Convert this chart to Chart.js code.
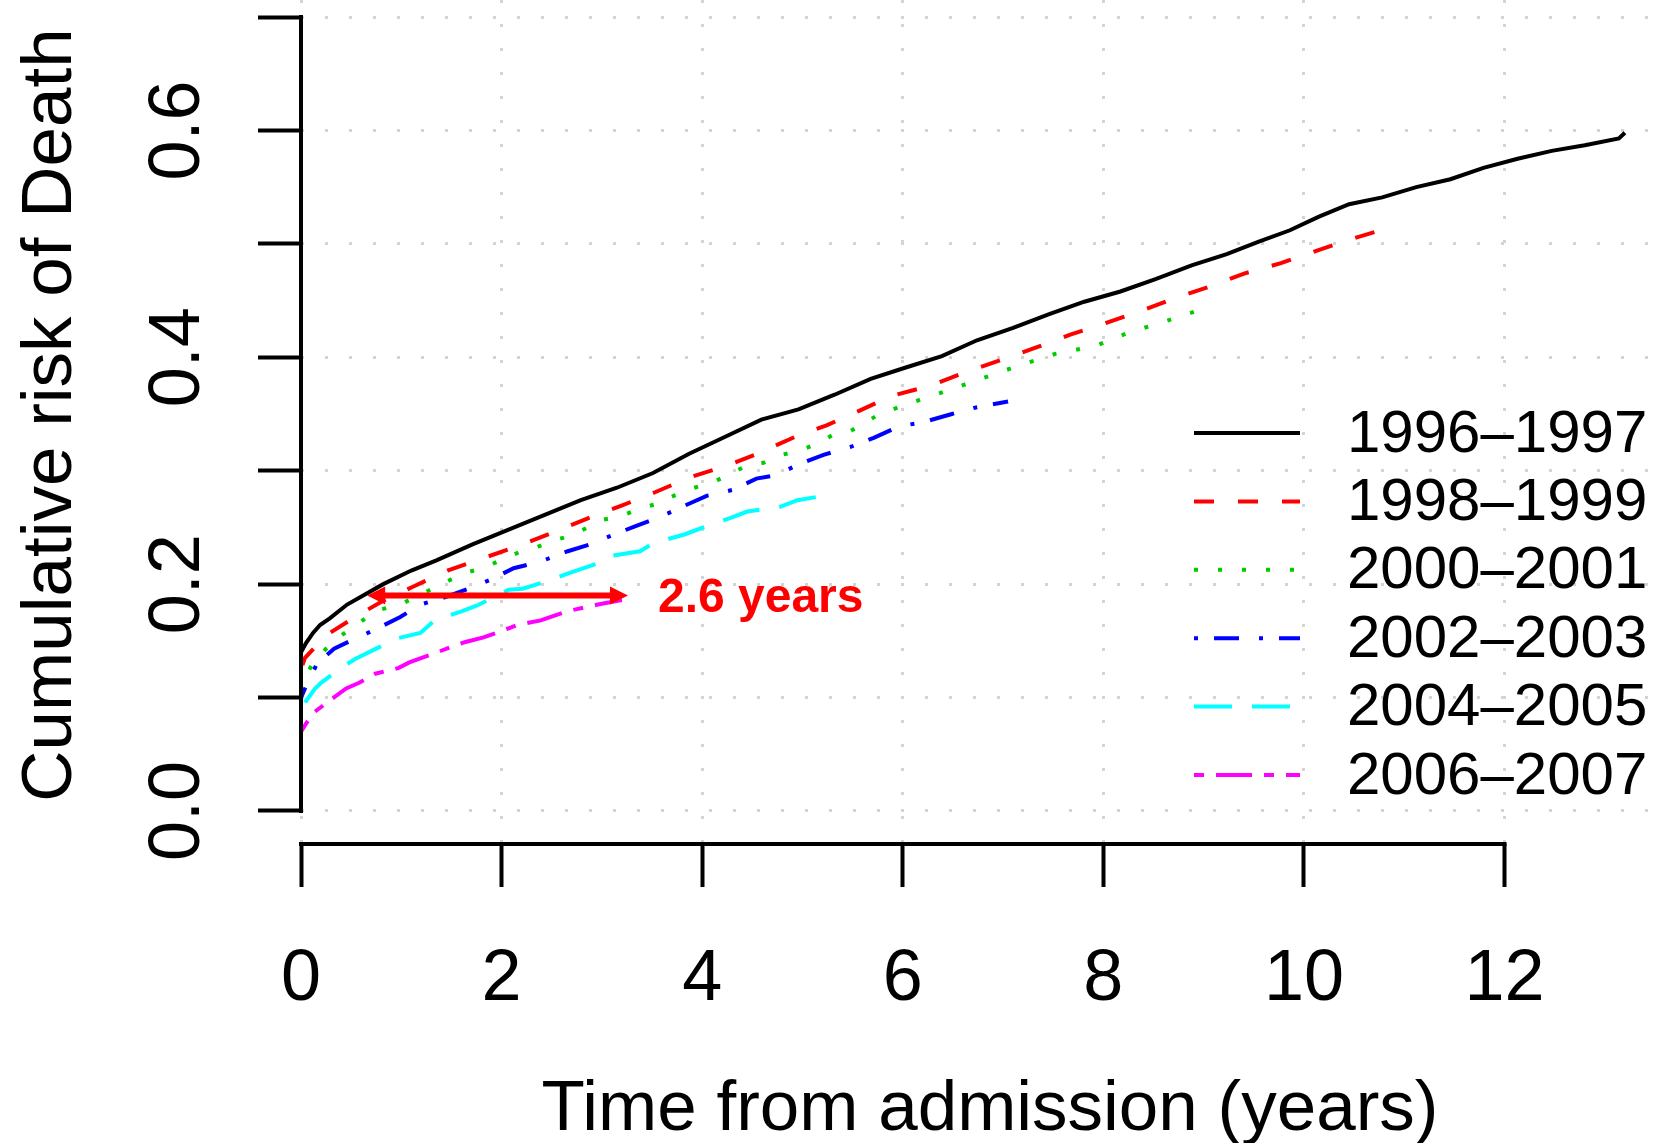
<!DOCTYPE html>
<html>
<head>
<meta charset="utf-8">
<title>Cumulative risk of death</title>
<script src="https://cdn.jsdelivr.net/npm/chart.js@4"></script>
<style>
  html, body { margin: 0; padding: 0; background: #fff; }
  #wrap { width: 1655px; height: 1143px; }
</style>
</head>
<body>
<div id="wrap"><canvas id="riskChart" width="1655" height="1143"></canvas></div>
<script>
// admission periods
const periods = ['1996–1997', '1998–1999', '2000–2001', '2002–2003', '2004–2005', '2006–2007'];
const colors = ['#000000', '#FF0000', '#00CD00', '#0000FF', '#00FFFF', '#FF00FF'];
const dashes = [[], [20, 24], [4, 20], [4, 16, 25, 20], [38, 20], [10, 12, 36, 12]];

// time (years) and cumulative risk
const t9697 = [0, 0, 0.05, 0.12, 0.19, 0.29, 0.46, 0.62, 0.82, 1.10, 1.35, 1.71, 2.07, 2.43, 2.79, 3.15, 3.51, 3.87, 4.23, 4.59, 4.96, 5.32, 5.68, 6.03, 6.39, 6.74, 7.10, 7.46, 7.81, 8.17, 8.52, 8.88, 9.23, 9.55, 9.86, 10.15, 10.45, 10.78, 11.12, 11.46, 11.79, 12.13, 12.47, 12.80, 13.14, 13.20];
const r9697 = [0.100, 0.140, 0.148, 0.157, 0.164, 0.170, 0.182, 0.190, 0.200, 0.212, 0.221, 0.235, 0.248, 0.261, 0.274, 0.285, 0.298, 0.315, 0.330, 0.345, 0.354, 0.367, 0.381, 0.391, 0.401, 0.415, 0.426, 0.438, 0.449, 0.458, 0.469, 0.481, 0.491, 0.502, 0.512, 0.524, 0.535, 0.541, 0.550, 0.557, 0.567, 0.575, 0.582, 0.587, 0.593, 0.598];

const t9899 = [0, 0, 0.04, 0.20, 0.27, 0.52, 0.81, 1.10, 1.46, 1.82, 2.18, 2.50, 2.86, 3.19, 3.53, 3.87, 4.23, 4.55, 4.93, 5.24, 5.57, 5.89, 6.28, 6.60, 6.96, 7.31, 7.67, 8.02, 8.38, 8.71, 9.05, 9.41, 9.77, 10.13, 10.50, 10.92];
const r9899 = [0.090, 0.125, 0.135, 0.150, 0.156, 0.170, 0.185, 0.197, 0.212, 0.223, 0.234, 0.245, 0.258, 0.269, 0.281, 0.294, 0.304, 0.315, 0.330, 0.340, 0.353, 0.366, 0.375, 0.386, 0.397, 0.408, 0.420, 0.430, 0.441, 0.452, 0.462, 0.474, 0.483, 0.494, 0.505, 0.516];

const t0001 = [0, 0, 0.04, 0.13, 0.25, 0.37, 0.49, 0.66, 0.81, 0.99, 1.31, 1.47, 1.64, 1.81, 2.17, 2.33, 2.54, 2.70, 2.86, 3.02, 3.19, 3.39, 3.56, 3.72, 3.92, 4.09, 4.25, 4.41, 4.61, 4.79, 4.95, 5.15, 5.31, 5.48, 5.77, 6.12, 6.49, 6.81, 7.17, 7.52, 7.92, 8.26, 8.63, 9.00];
const r0001 = [0.085, 0.115, 0.118, 0.132, 0.143, 0.153, 0.160, 0.171, 0.178, 0.182, 0.196, 0.203, 0.210, 0.214, 0.228, 0.232, 0.239, 0.243, 0.250, 0.257, 0.260, 0.267, 0.271, 0.278, 0.285, 0.289, 0.296, 0.303, 0.307, 0.314, 0.317, 0.324, 0.332, 0.335, 0.350, 0.361, 0.372, 0.382, 0.393, 0.403, 0.410, 0.422, 0.432, 0.443];

const t0203 = [0, 0, 0.04, 0.16, 0.33, 0.54, 0.74, 0.99, 1.19, 1.39, 1.67, 1.89, 2.12, 2.39, 2.66, 2.88, 3.10, 3.33, 3.60, 3.82, 4.05, 4.30, 4.54, 4.73, 5.00, 5.21, 5.48, 5.71, 5.96, 6.21, 6.49, 6.74, 7.05];
const r0203 = [0.070, 0.100, 0.108, 0.130, 0.143, 0.152, 0.160, 0.171, 0.182, 0.187, 0.196, 0.204, 0.214, 0.220, 0.229, 0.235, 0.243, 0.251, 0.260, 0.269, 0.278, 0.283, 0.293, 0.296, 0.307, 0.314, 0.321, 0.329, 0.339, 0.343, 0.350, 0.356, 0.361];

const t0405 = [0, 0, 0.05, 0.14, 0.20, 0.38, 0.54, 0.77, 0.95, 1.19, 1.33, 1.60, 1.75, 2.07, 2.21, 2.50, 2.65, 2.95, 3.10, 3.38, 3.51, 3.83, 4.01, 4.27, 4.45, 4.77, 4.95, 5.15];
const r0405 = [0.045, 0.085, 0.097, 0.108, 0.113, 0.125, 0.134, 0.144, 0.152, 0.157, 0.168, 0.176, 0.181, 0.195, 0.196, 0.204, 0.209, 0.218, 0.225, 0.229, 0.236, 0.244, 0.250, 0.258, 0.264, 0.268, 0.274, 0.277];

const t0607 = [0, 0, 0.05, 0.13, 0.31, 0.45, 0.58, 0.74, 0.97, 1.08, 1.30, 1.48, 1.64, 1.82, 2.07, 2.16, 2.39, 2.65, 2.75, 2.96, 3.20];
const r0607 = [0.030, 0.070, 0.077, 0.087, 0.099, 0.108, 0.113, 0.121, 0.126, 0.131, 0.138, 0.144, 0.149, 0.153, 0.161, 0.164, 0.168, 0.176, 0.178, 0.182, 0.186];

const seriesT = [t9697, t9899, t0001, t0203, t0405, t0607];
const seriesR = [r9697, r9899, r0001, r0203, r0405, r0607];

// axes
const xTicks = [0, 2, 4, 6, 8, 10, 12];
const yTicks = [0, 0.1, 0.2, 0.3, 0.4, 0.5, 0.6, 0.7];
const yLabelTicks = [0, 0.2, 0.4, 0.6];
const xTitle = 'Time from admission (years)';
const yTitle = 'Cumulative risk of Death';

// annotation: gap between the 1996-1997 and 2006-2007 curves
const arrowFrom = 0.66;
const arrowTo = 3.26;
const arrowLevel = 0.19;
const arrowText = '2.6 years';

const FONT = '"Liberation Sans", Arial, sans-serif';

// R-like axes, labels, legend and the arrow
const rStyle = {
    id: 'rStyle',
    afterDraw(chart) {
        const { ctx, chartArea, scales: { x, y } } = chart;
        ctx.save();

        // axis lines, only over the tick range
        ctx.strokeStyle = '#000';
        ctx.lineWidth = 4;
        ctx.lineCap = 'square';
        ctx.setLineDash([]);
        ctx.beginPath();
        ctx.moveTo(chartArea.left, y.getPixelForValue(yTicks[0]));
        ctx.lineTo(chartArea.left, y.getPixelForValue(yTicks[yTicks.length - 1]));
        ctx.moveTo(x.getPixelForValue(xTicks[0]), chartArea.bottom);
        ctx.lineTo(x.getPixelForValue(xTicks[xTicks.length - 1]), chartArea.bottom);
        ctx.stroke();
        ctx.lineCap = 'butt';

        // tick labels
        ctx.fillStyle = '#000';
        ctx.font = '72px ' + FONT;
        ctx.textAlign = 'center';
        ctx.textBaseline = 'alphabetic';
        xTicks.forEach(v => ctx.fillText(String(v), x.getPixelForValue(v), chartArea.bottom + 156));
        yLabelTicks.forEach(v => {
            ctx.save();
            ctx.translate(chartArea.left - 102, y.getPixelForValue(v));
            ctx.rotate(-Math.PI / 2);
            ctx.fillText(v.toFixed(1), 0, 0);
            ctx.restore();
        });

        // axis titles
        ctx.font = '71px ' + FONT;
        ctx.fillText(xTitle, 990, 1130);
        ctx.save();
        ctx.translate(71, 415);
        ctx.rotate(-Math.PI / 2);
        ctx.fillText(yTitle, 0, 0);
        ctx.restore();

        // legend
        ctx.font = '60px ' + FONT;
        ctx.textAlign = 'left';
        chart.data.datasets.forEach((ds, i) => {
            const ly = 433 + i * 68.4;
            ctx.strokeStyle = ds.borderColor;
            ctx.lineWidth = 4;
            ctx.setLineDash(ds.borderDash);
            ctx.beginPath();
            ctx.moveTo(1194, ly);
            ctx.lineTo(1300, ly);
            ctx.stroke();
            ctx.fillStyle = '#000';
            ctx.fillText(ds.label, 1347, ly + 18.5);
        });

        // double arrow + label
        const ax1 = x.getPixelForValue(arrowFrom);
        const ax2 = x.getPixelForValue(arrowTo);
        const ay = y.getPixelForValue(arrowLevel);
        ctx.setLineDash([]);
        ctx.strokeStyle = '#FF0000';
        ctx.fillStyle = '#FF0000';
        ctx.lineWidth = 6;
        ctx.beginPath();
        ctx.moveTo(ax1 + 12, ay);
        ctx.lineTo(ax2 - 12, ay);
        ctx.stroke();
        [[ax1, 1], [ax2, -1]].forEach(([px, dir]) => {
            ctx.beginPath();
            ctx.moveTo(px, ay);
            ctx.lineTo(px + dir * 18, ay - 9);
            ctx.lineTo(px + dir * 18, ay + 9);
            ctx.closePath();
            ctx.fill();
        });
        ctx.font = 'bold 48px ' + FONT;
        ctx.fillText(arrowText, ax2 + 30, ay + 17);

        ctx.restore();
    }
};

const ctx = document.getElementById('riskChart');

new Chart(ctx, {
    type: 'line',
    data: {
        datasets: periods.map((p, i) => ({
            label: p,
            data: seriesT[i].map((t, k) => ({ x: t, y: seriesR[i][k] })),
            borderColor: colors[i],
            borderWidth: 4,
            borderDash: dashes[i],
            pointRadius: 0,
            fill: false,
            tension: 0,
            order: periods.length - i
        }))
    },
    options: {
        responsive: false,
        devicePixelRatio: 1,
        animation: false,
        layout: { padding: { left: 258, right: 0, top: 0, bottom: 256 } },
        plugins: {
            legend: { display: false },
            tooltip: { enabled: false }
        },
        scales: {
            x: {
                type: 'linear',
                min: 0,
                max: 13.5,
                afterBuildTicks: s => { s.ticks = xTicks.map(v => ({ value: v })); },
                ticks: { display: false },
                grid: { color: '#D3D3D3', lineWidth: 3, tickLength: 43, tickColor: '#000', tickWidth: 4, tickBorderDash: [] },
                border: { display: false, dash: [3, 21] }
            },
            y: {
                type: 'linear',
                min: -0.0291,
                max: 0.715,
                afterBuildTicks: s => { s.ticks = yTicks.map(v => ({ value: v })); },
                ticks: { display: false },
                grid: { color: '#D3D3D3', lineWidth: 3, tickLength: 43, tickColor: '#000', tickWidth: 4, tickBorderDash: [] },
                border: { display: false, dash: [3, 21] }
            }
        }
    },
    plugins: [rStyle]
});
</script>
</body>
</html>
